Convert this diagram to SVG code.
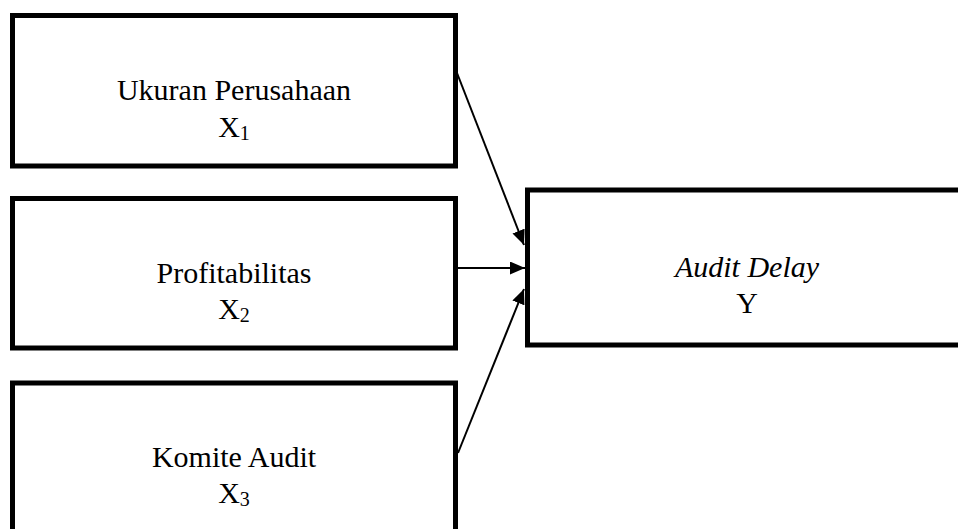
<svg xmlns="http://www.w3.org/2000/svg" width="958" height="529" viewBox="0 0 958 529">
<style>
.box{fill:#fff;stroke:#000;stroke-width:5}
.t{font-family:"Liberation Serif","Times New Roman",serif;font-size:30px;fill:#000;text-anchor:middle}
.sub{font-size:20px}
.conn{stroke:#000;stroke-width:2;fill:none;marker-end:url(#ah)}
</style>
<defs>
<marker id="ah" markerUnits="userSpaceOnUse" markerWidth="16" markerHeight="14" refX="15" refY="6.5" orient="auto">
<path d="M0,0 L15,6.5 L0,13 z" fill="#000"/>
</marker>
</defs>
<rect width="958" height="529" fill="#fff"/>
<g id="x1">
<rect class="box" x="12.5" y="15.5" width="443" height="150.5"/>
<text class="t" x="234" y="100">Ukuran Perusahaan</text>
<text class="t" x="234" y="137">X<tspan class="sub" dy="3">1</tspan></text>
</g>
<g id="x2">
<rect class="box" x="12.5" y="198.5" width="443" height="149.5"/>
<text class="t" x="234" y="282.5">Profitabilitas</text>
<text class="t" x="234" y="318.5">X<tspan class="sub" dy="3">2</tspan></text>
</g>
<g id="x3">
<rect class="box" x="12.5" y="383" width="443" height="200"/>
<text class="t" x="234" y="466.7">Komite Audit</text>
<text class="t" x="234" y="503">X<tspan class="sub" dy="3">3</tspan></text>
</g>
<g id="y">
<rect class="box" x="527.5" y="190" width="440" height="155"/>
<text class="t" x="747" y="277" font-style="italic">Audit Delay</text>
<text class="t" x="747" y="312.5">Y</text>
</g>
<g id="connectors">
<line class="conn" x1="457" y1="73" x2="524" y2="245"/>
<line class="conn" x1="458" y1="268" x2="525" y2="268"/>
<line class="conn" x1="458" y1="453" x2="524" y2="289"/>
</g>
</svg>
